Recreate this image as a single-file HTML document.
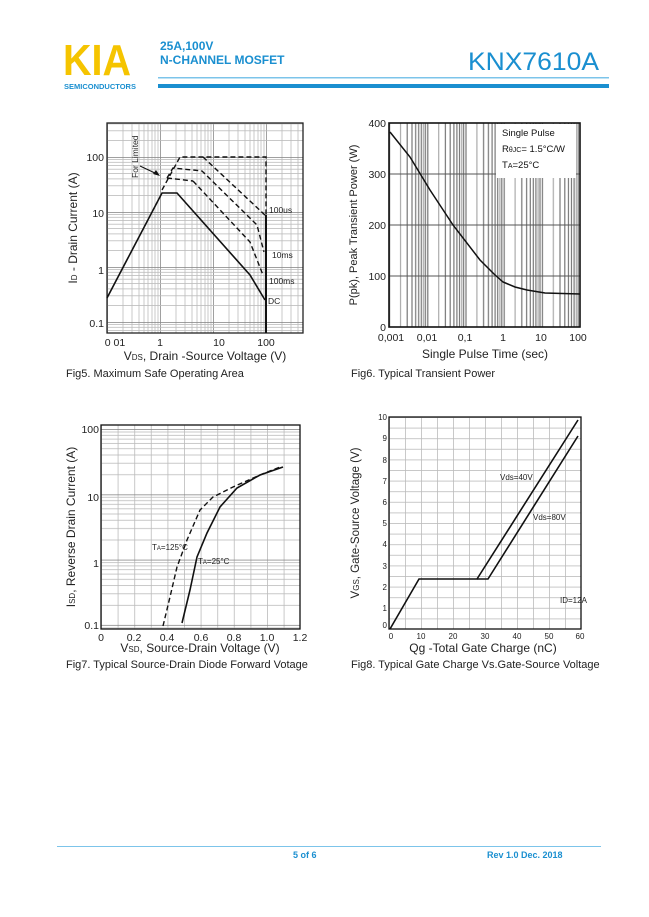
<!DOCTYPE html>
<html><head><meta charset="utf-8"><style>
html,body{margin:0;padding:0;background:#fff;}
svg{display:block;font-family:"Liberation Sans",sans-serif;}
</style></head><body>
<svg width="649" height="917" viewBox="0 0 649 917" xmlns="http://www.w3.org/2000/svg">
<defs>
<pattern id="p5x" patternUnits="userSpaceOnUse" x="107" y="0" width="53" height="10">
<g stroke="#bbb" stroke-width="0.8"><line x1="0.5" y1="0" x2="0.5" y2="10" stroke="#888"/><line x1="16" y1="0" x2="16" y2="10"/><line x1="25" y1="0" x2="25" y2="10"/><line x1="32" y1="0" x2="32" y2="10"/><line x1="37" y1="0" x2="37" y2="10"/><line x1="41" y1="0" x2="41" y2="10"/><line x1="45" y1="0" x2="45" y2="10"/><line x1="48" y1="0" x2="48" y2="10"/><line x1="51" y1="0" x2="51" y2="10"/></g></pattern>
<pattern id="p5y" patternUnits="userSpaceOnUse" x="0" y="157" width="10" height="55">
<g stroke="#bbb" stroke-width="0.8"><line y1="0.5" x1="0" y2="0.5" x2="10" stroke="#888"/><line y1="2.5" x1="0" y2="2.5" x2="10"/><line y1="5.3" x1="0" y2="5.3" x2="10"/><line y1="8.5" x1="0" y2="8.5" x2="10"/><line y1="12.2" x1="0" y2="12.2" x2="10"/><line y1="16.6" x1="0" y2="16.6" x2="10"/><line y1="21.9" x1="0" y2="21.9" x2="10"/><line y1="28.8" x1="0" y2="28.8" x2="10"/><line y1="38.4" x1="0" y2="38.4" x2="10"/></g></pattern>
<pattern id="p6x" patternUnits="userSpaceOnUse" x="389" y="0" width="38.2" height="10">
<g stroke="#777" stroke-width="1.2"><line x1="0.6" y1="0" x2="0.6" y2="10"/><line x1="11.5" y1="0" x2="11.5" y2="10" stroke="#aaa"/><line x1="18.2" y1="0" x2="18.2" y2="10"/><line x1="23" y1="0" x2="23" y2="10"/><line x1="26.7" y1="0" x2="26.7" y2="10"/><line x1="29.7" y1="0" x2="29.7" y2="10"/><line x1="32.3" y1="0" x2="32.3" y2="10"/><line x1="34.5" y1="0" x2="34.5" y2="10" stroke="#aaa"/><line x1="36.4" y1="0" x2="36.4" y2="10"/></g></pattern>
<pattern id="p7y" patternUnits="userSpaceOnUse" x="0" y="429" width="10" height="65.3">
<g stroke="#bbb" stroke-width="0.8"><line y1="0.5" x1="0" y2="0.5" x2="10" stroke="#888"/><line y1="3" x1="0" y2="3" x2="10"/><line y1="6.3" x1="0" y2="6.3" x2="10"/><line y1="10.1" x1="0" y2="10.1" x2="10"/><line y1="14.5" x1="0" y2="14.5" x2="10"/><line y1="19.7" x1="0" y2="19.7" x2="10"/><line y1="26" x1="0" y2="26" x2="10"/><line y1="34.2" x1="0" y2="34.2" x2="10"/><line y1="45.7" x1="0" y2="45.7" x2="10"/></g></pattern>
<pattern id="p7x" patternUnits="userSpaceOnUse" x="101" y="0" width="16.6" height="10"><line x1="0.5" y1="0" x2="0.5" y2="10" stroke="#bbb" stroke-width="0.8"/></pattern>
<pattern id="p8x" patternUnits="userSpaceOnUse" x="389" y="0" width="16" height="10"><line x1="0.5" y1="0" x2="0.5" y2="10" stroke="#bbb" stroke-width="0.8"/></pattern>
<pattern id="p8y" patternUnits="userSpaceOnUse" x="0" y="417" width="10" height="10.6"><line y1="0.5" x1="0" y2="0.5" x2="10" stroke="#bbb" stroke-width="0.8"/></pattern>
</defs>

<!-- header -->
<text x="63" y="75" font-size="44" font-weight="bold" fill="#f5c400" textLength="68" lengthAdjust="spacingAndGlyphs">KIA</text>
<text x="64" y="89" font-size="7.5" font-weight="bold" fill="#1a8fd0">SEMICONDUCTORS</text>
<text x="160" y="50" font-size="12" font-weight="bold" fill="#1a8fd0">25A,100V</text>
<text x="160" y="64" font-size="12" font-weight="bold" fill="#1a8fd0">N-CHANNEL MOSFET</text>
<text x="468" y="70" font-size="25" fill="#1a8fd0" textLength="131" lengthAdjust="spacingAndGlyphs">KNX7610A</text>
<rect x="158" y="77" width="451" height="1.5" fill="#7cc4ea"/>
<rect x="158" y="84" width="451" height="4" fill="#1a8fd0"/>

<!-- Fig5 -->
<rect x="107" y="123" width="196" height="210" fill="url(#p5x)"/>
<rect x="107" y="123" width="196" height="210" fill="url(#p5y)" />
<rect x="107" y="123" width="196" height="210" fill="none" stroke="#222" stroke-width="1.3"/>
<g font-size="10.5" fill="#222" text-anchor="end">
<text x="104" y="161">100</text><text x="104" y="217">10</text><text x="104" y="274">1</text><text x="104" y="327">0.1</text></g>
<g font-size="10.5" fill="#222" text-anchor="middle">
<text x="115" y="346">0 01</text><text x="160" y="346">1</text><text x="219" y="346">10</text><text x="266" y="346">100</text></g>
<text x="205" y="360" font-size="12" fill="#222" text-anchor="middle">V<tspan font-size="8">DS</tspan>, Drain -Source Voltage (V)</text>
<text transform="translate(77,228) rotate(-90)" font-size="12" fill="#222" text-anchor="middle">I<tspan font-size="8">D</tspan> - Drain Current (A)</text>
<text x="66" y="377" font-size="11" fill="#222">Fig5. Maximum Safe Operating Area</text>
<polyline points="107,298 162,193 177,193 250,275 265,300" fill="none" stroke="#111" stroke-width="1.6"/>
<line x1="266" y1="333" x2="266" y2="215" stroke="#111" stroke-width="2"/>
<g fill="none" stroke="#111" stroke-width="1.4" stroke-dasharray="5,3">
<polyline points="162,190 180,157 266,157 266,215"/>
<polyline points="203,157 266,216"/>
<polyline points="167,178 173,168 202,171 257,225 264,252"/>
<polyline points="193,181 250,242 263,275"/>
<polyline points="167,178 193,181"/>
</g>
<line x1="140" y1="166" x2="157" y2="174" stroke="#111" stroke-width="1"/>
<polygon points="160,176 153,174 156,170" fill="#111"/>
<text transform="translate(138,178) rotate(-90)" font-size="8.5" fill="#222">For Limited</text>
<g font-size="8.5" fill="#222"><text x="269" y="213">100us</text><text x="272" y="258">10ms</text><text x="269" y="284">100ms</text><text x="268" y="304">DC</text></g>

<!-- Fig6 -->
<rect x="389" y="123" width="191" height="204" fill="url(#p6x)"/>
<g stroke="#555" stroke-width="1"><line x1="389" y1="174" x2="580" y2="174"/><line x1="389" y1="225" x2="580" y2="225"/><line x1="389" y1="276" x2="580" y2="276"/></g>
<rect x="496" y="124" width="80" height="54" fill="#fff"/>
<rect x="389" y="123" width="191" height="204" fill="none" stroke="#111" stroke-width="1.6"/>
<g font-size="9.5" fill="#111"><text x="502" y="136">Single Pulse</text><text x="502" y="152">R<tspan font-size="7">θJC</tspan>= 1.5°C/W</text><text x="502" y="168">T<tspan font-size="7">A</tspan>=25°C</text></g>
<polyline points="390,132 410,157 430,190 453,225 480,260 494,274 503,282 515,287 527,290 545,293 580,294" fill="none" stroke="#111" stroke-width="1.5"/>
<g font-size="10.5" fill="#222" text-anchor="end"><text x="386" y="127">400</text><text x="386" y="178">300</text><text x="386" y="229">200</text><text x="386" y="280">100</text><text x="386" y="331">0</text></g>
<g font-size="10.5" fill="#222" text-anchor="middle"><text x="391" y="341">0,001</text><text x="427" y="341">0,01</text><text x="465" y="341">0,1</text><text x="503" y="341">1</text><text x="541" y="341">10</text><text x="578" y="341">100</text></g>
<text x="485" y="358" font-size="12" fill="#222" text-anchor="middle">Single Pulse Time (sec)</text>
<text transform="translate(357,225) rotate(-90)" font-size="11" fill="#222" text-anchor="middle">P(pk), Peak Transient Power  (W)</text>
<text x="351" y="377" font-size="11" fill="#222">Fig6. Typical Transient Power</text>

<!-- Fig7 -->
<rect x="101" y="425" width="199" height="204" fill="url(#p7x)"/>
<rect x="101" y="425" width="199" height="204" fill="url(#p7y)"/>
<rect x="101" y="425" width="199" height="204" fill="none" stroke="#111" stroke-width="1.3"/>
<polyline points="163,626 170,597 177,567 187,540 200,510 213,497 233,487 260,475 280,467" fill="none" stroke="#111" stroke-width="1.4" stroke-dasharray="5,3"/>
<polyline points="182,623 190,590 197,557 207,533 220,507 237,488 260,475 283,467" fill="none" stroke="#111" stroke-width="1.6"/>
<text x="152" y="550" font-size="8" fill="#222">T<tspan font-size="6">A</tspan>=125°C</text>
<text x="198" y="564" font-size="8" fill="#222">T<tspan font-size="6">A</tspan>=25°C</text>
<g font-size="10.5" fill="#222" text-anchor="end"><text x="99" y="433">100</text><text x="99" y="501">10</text><text x="99" y="567">1</text><text x="99" y="629">0.1</text></g>
<g font-size="10.5" fill="#222" text-anchor="middle"><text x="101" y="641">0</text><text x="134" y="641">0.2</text><text x="167" y="641">0.4</text><text x="201" y="641">0.6</text><text x="234" y="641">0.8</text><text x="267" y="641">1.0</text><text x="300" y="641">1.2</text></g>
<text x="200" y="652" font-size="12" fill="#222" text-anchor="middle">V<tspan font-size="8">SD</tspan>, Source-Drain Voltage (V)</text>
<text transform="translate(75,527) rotate(-90)" font-size="12" fill="#222" text-anchor="middle">I<tspan font-size="8">SD</tspan>, Reverse Drain Current (A)</text>
<text x="66" y="668" font-size="11" fill="#222">Fig7. Typical Source-Drain Diode Forward Votage</text>

<!-- Fig8 -->
<rect x="389" y="417" width="192" height="212" fill="url(#p8x)"/>
<rect x="389" y="417" width="192" height="212" fill="url(#p8y)"/>
<rect x="389" y="417" width="192" height="212" fill="none" stroke="#111" stroke-width="1.3"/>
<polyline points="390,629 419,579 477,579 578,420" fill="none" stroke="#111" stroke-width="1.6"/>
<polyline points="477,579 488,579 578,436" fill="none" stroke="#111" stroke-width="1.6"/>
<g font-size="8" fill="#222"><text x="500" y="480">Vds=40V</text><text x="533" y="520">Vds=80V</text><text x="560" y="603">ID=12A</text></g>
<g font-size="8" fill="#222" text-anchor="end"><text x="387" y="420">10</text><text x="387" y="441">9</text><text x="387" y="463">8</text><text x="387" y="484">7</text><text x="387" y="505">6</text><text x="387" y="526">5</text><text x="387" y="547">4</text><text x="387" y="569">3</text><text x="387" y="590">2</text><text x="387" y="611">1</text><text x="387" y="628">0</text></g>
<g font-size="8" fill="#222" text-anchor="middle"><text x="391" y="639">0</text><text x="421" y="639">10</text><text x="453" y="639">20</text><text x="485" y="639">30</text><text x="517" y="639">40</text><text x="549" y="639">50</text><text x="580" y="639">60</text></g>
<text x="483" y="652" font-size="12" fill="#222" text-anchor="middle">Qg -Total Gate Charge (nC)</text>
<text transform="translate(359,523) rotate(-90)" font-size="11.5" fill="#222" text-anchor="middle">V<tspan font-size="8">GS</tspan>, Gate-Source Voltage (V)</text>
<text x="351" y="668" font-size="11" fill="#222">Fig8. Typical Gate Charge Vs.Gate-Source Voltage</text>

<!-- footer -->
<rect x="57" y="846" width="544" height="1" fill="#7cc4ea"/>
<text x="293" y="858" font-size="9" font-weight="bold" fill="#1a8fd0">5 of 6</text>
<text x="487" y="858" font-size="9" font-weight="bold" fill="#1a8fd0">Rev 1.0 Dec. 2018</text>
</svg>
</body></html>
